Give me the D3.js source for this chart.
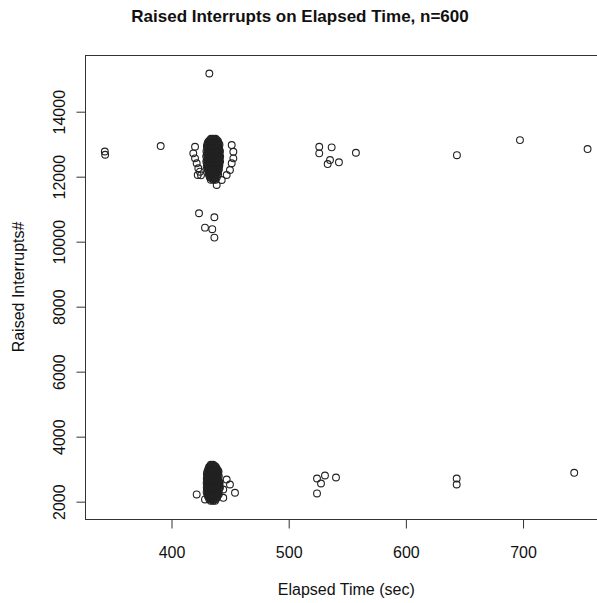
<!DOCTYPE html>
<html>
<head>
<meta charset="utf-8">
<script src="https://cdn.jsdelivr.net/npm/d3@7"></script>
<style>
  body { margin: 0; background: #fff; }
  text { font-family: "Liberation Sans", Arial, sans-serif; fill: #111; }
</style>
</head>
<body>
<div id="chart-area"></div>
<script>
/*
*    Raised Interrupts on Elapsed Time scatter
*/

// Tick values
var xTicks = [400, 500, 600, 700];
var yTicks = [2000, 4000, 6000, 8000, 10000, 12000, 14000];

// Sparse points [elapsed sec, interrupts]
var outliers = [
	[343.5, 12760], [343.8, 12660], [391.2, 12927], [432.7, 15160],
	[423.9, 10860], [437.0, 10737], [429.0, 10417], [435.2, 10368], [437.0, 10110],
	[526.5, 12906], [526.5, 12703], [537.1, 12887], [535.7, 12497], [533.7, 12374],
	[543.3, 12427], [557.8, 12721], [644.0, 12646], [697.8, 13111], [755.5, 12835],
	[524.6, 2697], [531.4, 2790], [528.0, 2544], [524.6, 2237], [540.8, 2728],
	[643.8, 2697], [643.8, 2513], [744.1, 2872]
];

// Edge of the upper cluster
var upperEdge = [
	[451.8, 12958], [453.2, 12752], [453.2, 12549], [451.8, 12396], [450.3, 12190],
	[447.5, 12036], [443.3, 11883], [439.0, 11729],
	[420.5, 12906], [419.0, 12703], [420.5, 12549], [421.9, 12396], [423.3, 12242],
	[424.7, 12138], [422.8, 12036], [425.6, 12027]
];

// Dense core of the upper cluster, rows of [interrupts, elapsed...]
var upperCore = [
	[13150, 434.2, 436.1, 438.0],
	[13115, 433.3, 435.3, 437.2, 439.1],
	[13080, 432.3, 434.4, 436.2, 438.3, 440.1],
	[13045, 431.7, 433.8, 435.7, 437.8, 439.6],
	[13010, 431.2, 433.1, 435.3, 437.2, 439.0, 440.8],
	[12970, 431.9, 433.9, 435.9, 437.9, 439.8, 441.4],
	[12930, 430.6, 432.7, 434.5, 436.6, 438.4, 440.5],
	[12890, 431.7, 433.8, 435.8, 437.8, 439.8],
	[12850, 431.0, 433.2, 435.0, 437.1, 439.2, 441.1],
	[12810, 431.5, 433.6, 435.6, 437.6, 439.6, 441.2],
	[12770, 430.2, 432.1, 434.3, 436.0, 438.2, 440.0, 441.8],
	[12730, 431.0, 433.1, 435.1, 437.2, 439.2, 441.3],
	[12690, 431.1, 433.0, 435.2, 437.3, 439.1, 441.0],
	[12650, 430.8, 432.9, 434.9, 436.9, 438.9, 441.1],
	[12610, 430.0, 432.2, 434.1, 436.3, 438.0, 440.2, 442.0],
	[12570, 431.2, 433.2, 435.3, 437.3, 439.3, 441.4],
	[12530, 431.3, 433.1, 435.0, 437.0, 439.3, 441.2],
	[12490, 430.8, 432.9, 435.0, 437.0, 439.1, 441.1],
	[12450, 430.1, 432.0, 434.2, 436.1, 438.3, 440.1, 441.9],
	[12410, 431.0, 433.0, 435.0, 437.0, 439.0, 441.0],
	[12370, 431.0, 433.3, 435.1, 437.2, 439.0, 441.0],
	[12330, 431.5, 433.5, 435.5, 437.5, 439.5, 441.3],
	[12290, 430.5, 432.4, 434.6, 436.4, 438.5, 440.6],
	[12250, 431.8, 433.8, 435.8, 437.8, 439.8],
	[12210, 431.2, 433.0, 435.2, 437.0, 439.1, 440.9],
	[12170, 432.0, 434.0, 436.0, 438.0, 440.0],
	[12130, 432.1, 434.0, 436.2, 438.1, 440.0],
	[12090, 433.2, 435.2, 437.2, 439.2],
	[12050, 432.3, 434.2, 436.0, 438.2, 440.2],
	[12010, 433.8, 435.8, 437.8],
	[11970, 433.1, 435.2, 437.0, 439.1],
	[11930, 435.0, 437.0],
	[11890, 434.0, 436.2, 438.1]
];

// Edge of the lower cluster
var lowerEdge = [
	[421.9, 2206], [429.0, 2052], [447.5, 2667], [450.3, 2513], [454.6, 2258],
	[444.6, 2359], [444.6, 2104]
];

// Dense core of the lower cluster
var lowerCore = [
	[3120, 434.0, 436.0],
	[3085, 433.5, 435.5, 437.4],
	[3050, 432.5, 434.5, 436.5, 438.3],
	[3015, 432.6, 434.6, 436.6, 438.5],
	[2980, 431.8, 433.7, 435.6, 437.5, 439.3],
	[2945, 432.0, 434.0, 436.0, 438.0, 440.0],
	[2910, 431.0, 433.0, 435.0, 437.0, 439.0, 440.6],
	[2875, 431.8, 433.8, 435.8, 437.8, 439.7],
	[2840, 430.6, 432.5, 434.4, 436.4, 438.3, 440.2],
	[2805, 431.6, 433.6, 435.6, 437.6, 439.6],
	[2770, 431.0, 433.0, 435.0, 437.0, 439.0, 440.8],
	[2735, 431.5, 433.5, 435.5, 437.5, 439.5],
	[2700, 430.5, 432.4, 434.3, 436.3, 438.2, 440.1],
	[2665, 431.3, 433.3, 435.3, 437.3, 439.3],
	[2630, 431.2, 433.1, 435.0, 437.0, 439.0, 440.8],
	[2595, 431.4, 433.4, 435.4, 437.4, 439.4, 441.0],
	[2560, 430.4, 432.3, 434.3, 436.2, 438.1, 440.0, 441.6],
	[2525, 431.0, 433.0, 435.0, 437.0, 439.0, 441.0],
	[2490, 431.1, 433.0, 435.0, 437.0, 439.0, 440.8],
	[2455, 431.5, 433.5, 435.5, 437.5, 439.5],
	[2420, 430.5, 432.5, 434.4, 436.3, 438.2, 440.2, 441.8],
	[2385, 431.5, 433.5, 435.5, 437.5, 439.5, 441.2],
	[2350, 431.0, 433.0, 435.0, 437.0, 439.0, 440.9],
	[2315, 431.4, 433.4, 435.4, 437.4, 439.4],
	[2280, 430.4, 432.4, 434.3, 436.2, 438.2, 440.2],
	[2245, 431.6, 433.6, 435.6, 437.6, 439.6],
	[2210, 431.0, 433.0, 435.0, 437.0, 439.0, 440.8],
	[2175, 432.0, 434.0, 436.0, 438.0, 440.0],
	[2140, 431.6, 433.5, 435.4, 437.4, 439.3],
	[2105, 432.8, 434.8, 436.8, 438.8],
	[2070, 432.6, 434.5, 436.5, 438.4],
	[2040, 434.5, 436.5],
	[2010, 433.8, 435.8, 437.6]
];

function unrow(rows) {
	var out = [];
	rows.forEach((r) => {
		r.slice(1).forEach((x) => out.push([x, r[0]]));
	});
	return out;
}

var points = outliers
	.concat(upperEdge, unrow(upperCore), lowerEdge, unrow(lowerCore));

var width = 597;
var height = 603;

var plot = { left: 85, right: 607.5, top: 55, bottom: 519 };

var svg = d3.select("#chart-area").append("svg")
	.attr("width", width)
	.attr("height", height);

// Scales
var x = d3.scaleLinear()
	.domain([326.6, 772.5])
	.range([plot.left, plot.right]);

var y = d3.scaleLinear()
	.domain([1451, 15729])
	.range([plot.bottom, plot.top]);

// Box
svg.append("rect")
	.attr("x", plot.left + 0.5)
	.attr("y", plot.top + 0.5)
	.attr("width", plot.right - plot.left)
	.attr("height", plot.bottom - plot.top)
	.attr("fill", "none")
	.attr("stroke", "#333")
	.attr("stroke-width", 1);

// Axes
var xAxisCall = d3.axisBottom(x)
	.tickValues(xTicks)
	.tickSize(9)
	.tickPadding(18)
	.tickSizeOuter(0);

var yAxisCall = d3.axisLeft(y)
	.tickValues(yTicks)
	.tickFormat(d3.format("d"))
	.tickSize(9)
	.tickSizeOuter(0);

var xAxisGroup = svg.append("g")
	.attr("transform", "translate(0.5, " + (plot.bottom + 0.5) + ")")
	.call(xAxisCall);

var yAxisGroup = svg.append("g")
	.attr("transform", "translate(" + (plot.left + 0.5) + ", 0.5)")
	.call(yAxisCall);

[xAxisGroup, yAxisGroup].forEach((g) => {
	g.select(".domain").remove();
	g.selectAll("line").attr("stroke", "#333");
	g.selectAll("text")
		.style("font-family", "'Liberation Sans', Arial, sans-serif")
		.style("font-size", "16px")
		.attr("fill", "#111");
});

// rotate y tick labels like R (las = 0)
yAxisGroup.selectAll(".tick text")
	.attr("x", null)
	.attr("dy", null)
	.attr("text-anchor", "middle")
	.attr("transform", "translate(-21, 0) rotate(-90)");

// Points
svg.append("g")
	.selectAll("circle")
	.data(points)
	.enter().append("circle")
	.attr("cx", (d) => x(d[0]))
	.attr("cy", (d) => y(d[1]))
	.attr("r", 3.4)
	.attr("fill", "none")
	.attr("stroke", "#222")
	.attr("stroke-width", 1.1);

// Title
svg.append("text")
	.attr("x", 300)
	.attr("y", 21.5)
	.attr("text-anchor", "middle")
	.style("font-size", "17px")
	.style("font-weight", "bold")
	.text("Raised Interrupts on Elapsed Time, n=600");

// x label
svg.append("text")
	.attr("x", (plot.left + plot.right) / 2)
	.attr("y", 595)
	.attr("text-anchor", "middle")
	.style("font-size", "16px")
	.text("Elapsed Time (sec)");

// y label
svg.append("text")
	.attr("transform", "translate(24, " + ((plot.top + plot.bottom) / 2) + ") rotate(-90)")
	.attr("text-anchor", "middle")
	.style("font-size", "16px")
	.text("Raised Interrupts#");
</script>
</body>
</html>
